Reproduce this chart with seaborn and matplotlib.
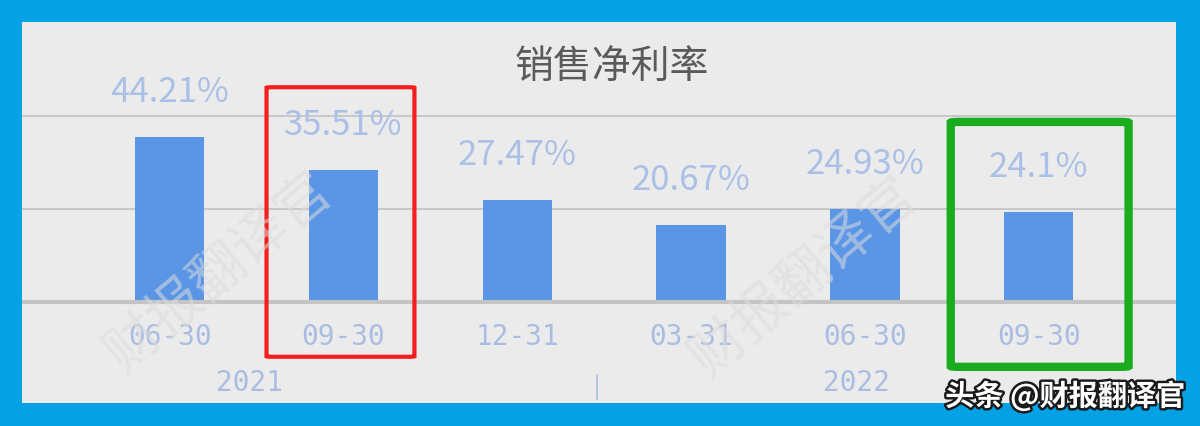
import numpy as np
import pandas as pd
import matplotlib.pyplot as plt
import matplotlib.patheffects as pe
import seaborn as sns
from matplotlib.patches import FancyBboxPatch

periods = ["2021-06-30", "2021-09-30", "2021-12-31", "2022-03-31", "2022-06-30", "2022-09-30"]
tick_labels = ["06-30", "09-30", "12-31", "03-31", "06-30", "09-30"]
net_margin = [44.21, 35.51, 27.47, 20.67, 24.93, 24.1]
value_labels = ["44.21%", "35.51%", "27.47%", "20.67%", "24.93%", "24.1%"]
years = ["2021", "2022"]

sns.set_theme(style="white")
plt.rcParams["font.family"] = ["Noto Sans CJK SC", "DejaVu Sans"]

df = pd.DataFrame({"period": periods, "margin": net_margin})

fig = plt.figure(figsize=(12, 4.26), dpi=100)
fig.patch.set_facecolor("#04a2e4")
ax = fig.add_axes([22 / 1200, 23 / 426, 1154 / 1200, 381 / 426])
ax.set_facecolor("#ebebeb")

sns.barplot(data=df, x="period", y="margin", order=periods, color="#5b96e6",
            width=0.4, saturation=1, linewidth=0, ax=ax, zorder=3)

# axes limits chosen so the plot fills the grey panel
ax.set_xlim(-0.85, 5.79)
ax.set_ylim(-27.1, 75.1)
for s in ax.spines.values():
    s.set_visible(False)
ax.set_xticks([])
ax.set_yticks([])
ax.set_xlabel("")
ax.set_ylabel("")

# grid and baseline
for g in [25, 50]:
    ax.axhline(g, color="#c8c8c8", lw=1.5, zorder=1)
ax.axhline(0, color="#c4c4c4", lw=3, zorder=4)

# value labels
for i, (v, lab) in enumerate(zip(net_margin, value_labels)):
    ax.annotate(lab, (i, v), xytext=(0, 32), textcoords="offset points",
                ha="center", va="center", fontsize=25, color="#aac0e6", zorder=5)

# category labels
for i, lab in enumerate(tick_labels):
    ax.text(i, -9.4, lab, ha="center", va="center", fontsize=20,
            color="#a9bde2", family="DejaVu Sans Mono")
ax.text(0.46, -21.7, years[0], ha="center", va="center", fontsize=20,
        color="#a9bde2", family="DejaVu Sans Mono")
ax.text(3.95, -21.7, years[1], ha="center", va="center", fontsize=20,
        color="#a9bde2", family="DejaVu Sans Mono")
ax.plot([2.46, 2.46], [-19.5, -26], color="#a9bde2", lw=1.2)

# title
fig.text(612 / 1200, 1 - 68 / 426, "销售净利率", ha="center", va="center",
         fontsize=28, color="#5a5a5a")

# highlight boxes
ax.add_patch(FancyBboxPatch((0.557, -14.7), 0.851, 72.3,
                            boxstyle="round,pad=0,rounding_size=0.03",
                            fill=False, ec="#f51d1d", lw=3, zorder=6,
                            mutation_aspect=4))
ax.add_patch(FancyBboxPatch((4.494, -17.4), 1.023, 65.7,
                            boxstyle="round,pad=0,rounding_size=0.05",
                            fill=False, ec="#1aab1e", lw=6, zorder=6,
                            mutation_aspect=4))

# watermark
for x, y in [(95, 385), (680, 390)]:
    fig.text(x / 1200, 1 - y / 426, "财报翻译官", rotation=40, fontsize=40,
             color="#dcdcdc", alpha=0.55, ha="left", va="bottom", zorder=0)

# source tag
fig.text(1185 / 1200, 1 - 396 / 426, "头条 @财报翻译官", ha="right", va="center",
         fontsize=21, color="white", fontweight="bold",
         path_effects=[pe.withStroke(linewidth=3.5, foreground="#1a1a1a")])

fig.savefig("out.png", dpi=100, facecolor=fig.get_facecolor())
